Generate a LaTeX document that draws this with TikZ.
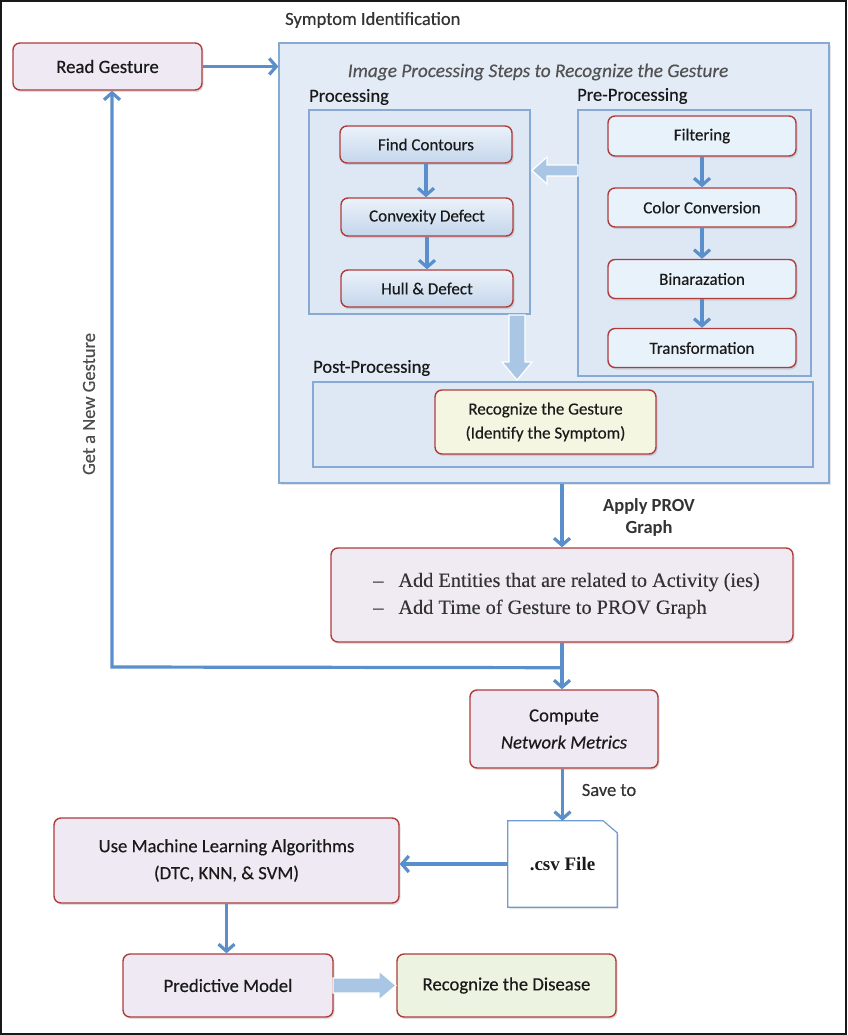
\documentclass[tikz,border=0pt]{standalone}
\usepackage{fontspec}
\setmainfont{Carlito}[UprightFeatures={FakeBold=0.35}, ItalicFeatures={FakeBold=0.35}]
\newfontfamily\seriffont{Liberation Serif}[UprightFeatures={FakeBold=0.25}]
\usetikzlibrary{arrows.meta,shadows,calc}

\definecolor{conn}{HTML}{5B8FCC}
\definecolor{redb}{HTML}{B03C3C}
\definecolor{panelfill}{HTML}{E3ECF6}
\definecolor{panelline}{HTML}{87AAD4}
\definecolor{subfill}{HTML}{DEE8F4}
\definecolor{lav}{HTML}{EEE9F2}
\definecolor{procTop}{HTML}{EBF2FA}
\definecolor{procBot}{HTML}{C4D6EB}
\definecolor{preFill}{HTML}{E7F2FA}
\definecolor{yel}{HTML}{F4F6E2}
\definecolor{grn}{HTML}{EDF3E1}
\definecolor{blk}{HTML}{A9C6E5}
\definecolor{txt}{HTML}{1A1A1A}
\definecolor{lbl}{HTML}{333333}
\definecolor{csvline}{HTML}{6F9BD1}

\tikzset{
  sz/.style 2 args={minimum width=#1pt, minimum height=#2pt, inner sep=0pt},
  redbox/.style={draw=redb, line width=1.4pt, rounded corners=7pt, text=txt, align=center,
    drop shadow={shadow xshift=1.5pt, shadow yshift=-2pt, opacity=0.25}},
  lavbox/.style={redbox, fill=lav, font=\fontsize{18.7}{27}\selectfont},
  procbox/.style={redbox, top color=procTop, bottom color=procBot, font=\fontsize{17}{24}\selectfont},
  prebox/.style={redbox, fill=preFill, font=\fontsize{17}{24}\selectfont},
  panel/.style={draw=panelline, line width=1.2pt, fill=panelfill},
  subpanel/.style={draw=panelline, line width=1.2pt, fill=subfill},
  conn/.style={draw=conn, line width=3.2pt, -{Straight Barb[length=7pt,width=16pt]}},
  blockarrow/.style={draw=white, fill=blk, line width=1.2pt},
  lbltext/.style={text=lbl, inner sep=0pt, font=\fontsize{18.5}{27}\selectfont},
}

\begin{document}
\begin{tikzpicture}[x=1pt,y=-1pt]
\useasboundingbox (0,0) rectangle (847,1035);
\fill[white] (0,0) rectangle (847,1035);

% panels
\node[panel, sz={550}{440}, drop shadow={shadow xshift=1.5pt, shadow yshift=-2pt, opacity=0.2}] (outer) at (554,263) {};
\node[subpanel, sz={221}{204}] (proc) at (419.5,212) {};
\node[subpanel, sz={233}{266}] (pre) at (694.5,243) {};
\node[subpanel, sz={500}{85}] (post) at (563,424.5) {};

% labels
\node[lbltext, anchor=west] (symlbl) at (285,20) {Symptom Identification};
\node[lbltext, text=black!68, font=\fontsize{19.3}{27}\selectfont\itshape] (title) at (538,72) {Image Processing Steps to Recognize the Gesture};
\node[lbltext, text=txt, anchor=west] (proclbl) at (309,97) {Processing};
\node[lbltext, text=txt, anchor=west] (prelbl) at (577,96) {Pre-Processing};
\node[lbltext, text=txt, anchor=west] (postlbl) at (313,368) {Post-Processing};

% read gesture
\node[lavbox, sz={189}{47}, font=\fontsize{18.8}{27}\selectfont] (read) at (107.5,66.5) {Read Gesture};

% processing
\node[procbox, sz={172}{37}] (fc) at (426,144.5) {Find Contours};
\node[procbox, sz={172}{38}] (cd) at (427,217) {Convexity Defect};
\node[procbox, sz={172}{37}] (hd) at (427,288.5) {Hull \& Defect};

% pre-processing
\node[prebox, sz={188}{40}] (filt) at (702,136) {Filtering};
\node[prebox, sz={188}{39}] (color) at (702,207.5) {Color Conversion};
\node[prebox, sz={188}{39}] (bin) at (702,279) {Binarazation};
\node[prebox, sz={188}{39}] (trans) at (702,348) {Transformation};

% post
\node[redbox, fill=yel, sz={221}{64}, font=\fontsize{17}{24}\selectfont] (recg) at (545.5,422) {Recognize the Gesture\\(Identify the Symptom)};

% PROV
\node[lavbox, sz={462}{94}, fill=lav!90!white] (prov) at (562,595)
  {\hspace*{9pt}{\seriffont\fontsize{20.3}{27}\selectfont\color{lbl}%
   \begin{tabular}{@{}l@{\hspace{15pt}}l@{}}–&Add Entities that are related to Activity (ies)\\–&Add Time of Gesture to PROV Graph\end{tabular}}};

\node[lavbox, sz={188}{78}] (comp) at (564,729) {Compute\\\textit{Network Metrics}};

% csv
\node[sz={109}{86}] (csv) at (562.5,864) {};
\draw[draw=csvline, fill=white, line width=1.2pt, drop shadow={shadow xshift=1.5pt, shadow yshift=-2pt, opacity=0.2}]
  (csv.south west) -- (csv.north west) -- ([xshift=-14pt]csv.north east) -- ([yshift=-12pt]csv.north east) -- (csv.south east) -- cycle;
\node[font=\seriffont\bfseries\fontsize{19}{24}\selectfont, text=txt] (csvtext) at (csv.center) {.csv File};

\node[lavbox, sz={345}{85}] (ml) at (226.5,860.5) {Use Machine Learning Algorithms\\(DTC, KNN, \& SVM)};
\node[lavbox, sz={210}{63}] (pred) at (228,985.5) {Predictive Model};
\node[redbox, fill=grn, sz={219}{63}, font=\fontsize{18.7}{27}\selectfont] (dis) at (506.5,985.5) {Recognize the Disease};

% connectors
\draw[conn] (read.east) -- (read.east -| outer.west);
\draw[conn] (fc.south) -- (fc.south |- cd.north);
\draw[conn] (cd.south) -- (cd.south |- hd.north);
\draw[conn] (filt.south) -- (filt.south |- color.north);
\draw[conn] (color.south) -- (color.south |- bin.north);
\draw[conn] (bin.south) -- (bin.south |- trans.north);
\draw[conn] (prov.north |- outer.south) -- (prov.north);
\draw[conn] (prov.south) -- (prov.south |- comp.north);
\coordinate (j) at ($(prov.south)+(0,25)$);
\coordinate (c1) at (112,667);
\draw[conn] (j) -- (c1) -- (c1 |- read.south);
\draw[conn] (comp.south -| csv.north) -- (csv.north);
\draw[conn] (csv.west) -- (csv.west -| ml.east);
\draw[conn] (ml.south) -- (ml.south |- pred.north);

% block arrows
\path[blockarrow] (578,165) -- (547,165) -- (547,157) -- (532,170.5) -- (547,184) -- (547,176) -- (578,176) -- cycle;
\path[blockarrow] (509,315) -- (509,362) -- (502,362) -- (517,380) -- (532,362) -- (525,362) -- (525,315) -- cycle;
\path[blockarrow] (333,978) -- (379,978) -- (379,971) -- (396,985.5) -- (379,1000) -- (379,993) -- (333,993) -- cycle;

% edge labels
\node[lbltext, font=\bfseries\fontsize{18.5}{22}\selectfont, align=center] (provlbl) at (649,517) {Apply PROV\\Graph};
\node[lbltext] (save) at (609,790) {Save to};
\node[lbltext, text=black!70, rotate=90] (newg) at (89,404) {Get a New Gesture};

% frame
\draw[black!90, line width=2pt] (1,1) rectangle (846,1034);
\end{tikzpicture}
\end{document}
